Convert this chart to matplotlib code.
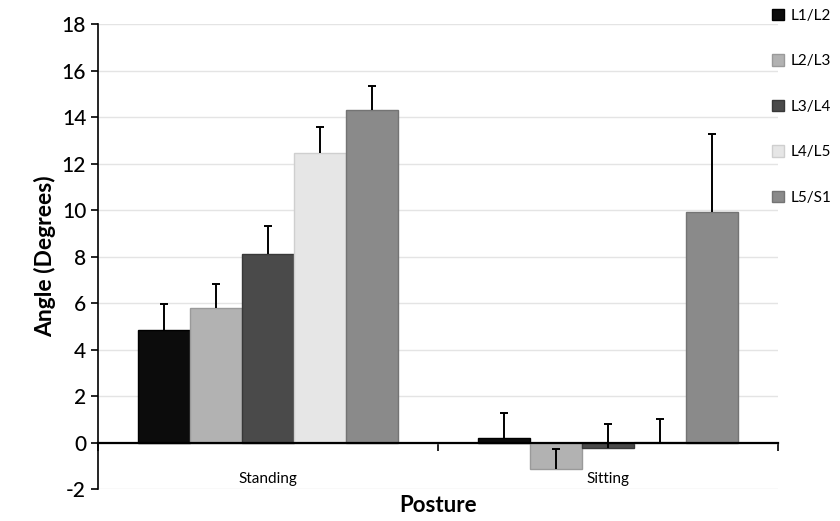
import numpy as np
import matplotlib
matplotlib.use("Agg")
import matplotlib.pyplot as plt

plt.rcParams['font.family'] = ['Lato', 'DejaVu Sans']
plt.rcParams['axes.unicode_minus'] = False

# Data
postures = ["Standing", "Sitting"]
levels = ["L1/L2", "L2/L3", "L3/L4", "L4/L5", "L5/S1"]
angles = {
    "L1/L2": [4.85, 0.2],
    "L2/L3": [5.8, -1.15],
    "L3/L4": [8.1, -0.25],
    "L4/L5": [12.45, 0.02],
    "L5/S1": [14.3, 9.9],
}
errors = {
    "L1/L2": [1.1, 1.05],
    "L2/L3": [1.0, 0.85],
    "L3/L4": [1.2, 1.05],
    "L4/L5": [1.1, 1.0],
    "L5/S1": [1.05, 3.35],
}
colors = ["#0c0c0c", "#b2b2b2", "#4a4a4a", "#e6e6e6", "#8a8a8a"]
edges = ["#000000", "#9a9a9a", "#383838", "#cfcfcf", "#747474"]

fig = plt.figure(figsize=(8.4, 5.21), dpi=100)
ax = fig.add_axes([0.1167, 0.0614, 0.81, 0.8925])

x = np.arange(len(postures))
width = 0.153
for i, lev in enumerate(levels):
    pos = x + (i - 2) * width
    err = np.array(errors[lev])
    ax.bar(pos, angles[lev], width, color=colors[i], edgecolor=edges[i],
           linewidth=1.0, label=lev, zorder=2)
    eb = ax.errorbar(pos, angles[lev], yerr=[np.zeros_like(err), err], fmt='none',
                     ecolor='black', elinewidth=1.4, capsize=3, capthick=1.4, zorder=3)
    # plus-only bars: hide the cap at the bar end
    eb[1][0].set_visible(False)

ax.set_xlim(-0.5, 1.5)
ax.set_ylim(-2, 18)
ax.set_yticks(np.arange(-2, 19, 2))
ax.yaxis.grid(True, color='#e4e4e4', linewidth=1.0, zorder=0)
ax.set_axisbelow(True)

for s in ['top', 'right']:
    ax.spines[s].set_visible(False)
ax.spines['bottom'].set_position(('data', 0))
ax.spines['bottom'].set_linewidth(1.6)
ax.spines['bottom'].set_zorder(4)
ax.spines['left'].set_linewidth(1.2)

ax.set_xticks([-0.5, 0.5, 1.5])
ax.set_xticklabels([])
ax.tick_params(axis='x', direction='out', length=6, width=1.2)
ax.tick_params(axis='y', direction='out', length=5, width=1.2, labelsize=15)
for lab in ax.get_yticklabels():
    lab.set_fontweight('medium')

for xi, name in zip(x, postures):
    ax.text(xi, -1.55, name, ha='center', va='center', fontsize=11)

ax.set_ylabel("Angle (Degrees)", fontsize=16.5, fontweight='bold', labelpad=4)
ax.text(0.5, -2.7, "Posture", ha='center', va='center', fontsize=16, fontweight='bold')

fig.legend(loc='upper left', bbox_to_anchor=(0.912, 0.995), frameon=False,
           fontsize=11, handlelength=0.8, handleheight=0.8, handletextpad=0.4,
           labelspacing=2.05, borderaxespad=0)

fig.savefig("out.png", dpi=100)
